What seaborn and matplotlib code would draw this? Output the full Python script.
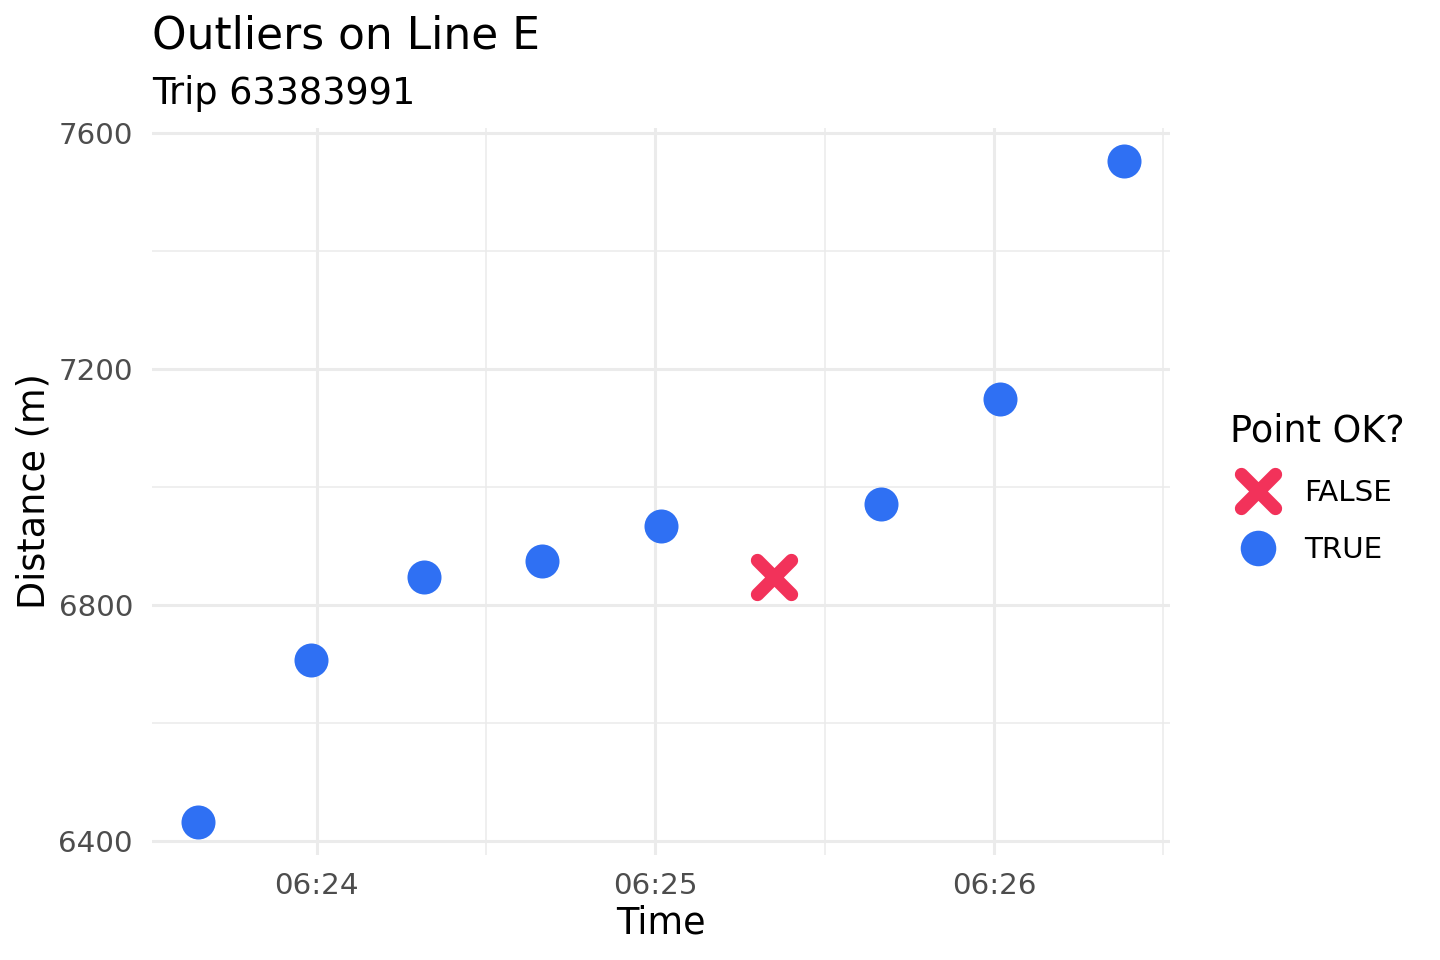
import matplotlib
matplotlib.use("Agg")
import matplotlib.pyplot as plt
import matplotlib.dates as mdates
from matplotlib.lines import Line2D
from matplotlib.ticker import MultipleLocator
import pandas as pd
import seaborn as sns

# data
times = ["06:23:39", "06:23:59", "06:24:19", "06:24:40", "06:25:01",
         "06:25:21", "06:25:40", "06:26:01", "06:26:23"]
distance = [6432, 6707, 6847, 6875, 6934, 6847, 6970, 7149, 7552]
point_ok = [True, True, True, True, True, False, True, True, True]

df = pd.DataFrame({
    "time": pd.to_datetime(["2020-01-01 " + t for t in times]),
    "distance": distance,
    "ok": ["TRUE" if p else "FALSE" for p in point_ok],
})

blue = "#2f70f3"
red = "#f2325a"
grid = "#ebebeb"

sns.set_style("white")
plt.rcParams["font.family"] = ["DejaVu Sans"]
plt.rcParams["text.color"] = "black"
plt.rcParams["axes.labelcolor"] = "black"

fig = plt.figure(figsize=(7.2, 4.8), dpi=200)
ax = fig.add_axes([152/1440, 1-855/960, (1170-152)/1440, (855-128)/960])

ok = df[df["ok"] == "TRUE"]
bad = df[df["ok"] == "FALSE"]
sns.scatterplot(data=ok, x="time", y="distance", color=blue, s=150,
                linewidth=0, marker="o", ax=ax, legend=False, zorder=3)
sns.scatterplot(data=bad, x="time", y="distance", color=red, s=150,
                linewidth=4.8, marker="x", ax=ax, legend=False, zorder=3)
for c in ax.collections:
    c.set_capstyle("round")

ax.margins(x=0.05, y=0.05)
ax.xaxis.set_major_locator(mdates.MinuteLocator())
ax.xaxis.set_minor_locator(mdates.SecondLocator(bysecond=[30]))
ax.xaxis.set_major_formatter(mdates.DateFormatter("%H:%M"))
ax.yaxis.set_major_locator(MultipleLocator(400))
ax.yaxis.set_minor_locator(MultipleLocator(200))

ax.grid(which="major", color=grid, linewidth=1.1)
ax.grid(which="minor", color=grid, linewidth=0.55)
ax.set_axisbelow(True)
for s in ax.spines.values():
    s.set_visible(False)
ax.tick_params(which="major", length=4.3, width=1.1, color=grid,
               labelsize=10.6, labelcolor="#4d4d4d", pad=2.5)
ax.tick_params(axis="x", which="major", pad=2)
ax.tick_params(which="minor", length=4.3, width=0.55, color=grid)

ax.set_xlabel("Time", fontsize=13.2, labelpad=1.5)
ax.set_ylabel("Distance (m)", fontsize=13.2, labelpad=2)

fig.text(152/1440, 1-36/960, "Outliers on Line E", fontsize=15.8,
         ha="left", va="center")
fig.text(152/1440, 1-93/960, "Trip 63383991", fontsize=13.2,
         ha="left", va="center")

handles = [
    Line2D([], [], linestyle="none", marker="x", color=red, markersize=12.5,
           markeredgewidth=4.8),
    Line2D([], [], linestyle="none", marker="o", color=blue, markersize=12.8,
           markeredgewidth=0),
]
leg = fig.legend(handles, ["FALSE", "TRUE"], title="Point OK?",
                 loc="upper left", bbox_to_anchor=(1203/1440, 1-386/960),
                 frameon=False, fontsize=10.6, title_fontsize=13.2,
                 handlelength=1.95, handletextpad=0.6, labelspacing=1.0)
leg._legend_box.align = "left"
for h in leg.legend_handles:
    h._marker._capstyle = matplotlib._enums.CapStyle.round

fig.savefig("out.png", dpi=200)
